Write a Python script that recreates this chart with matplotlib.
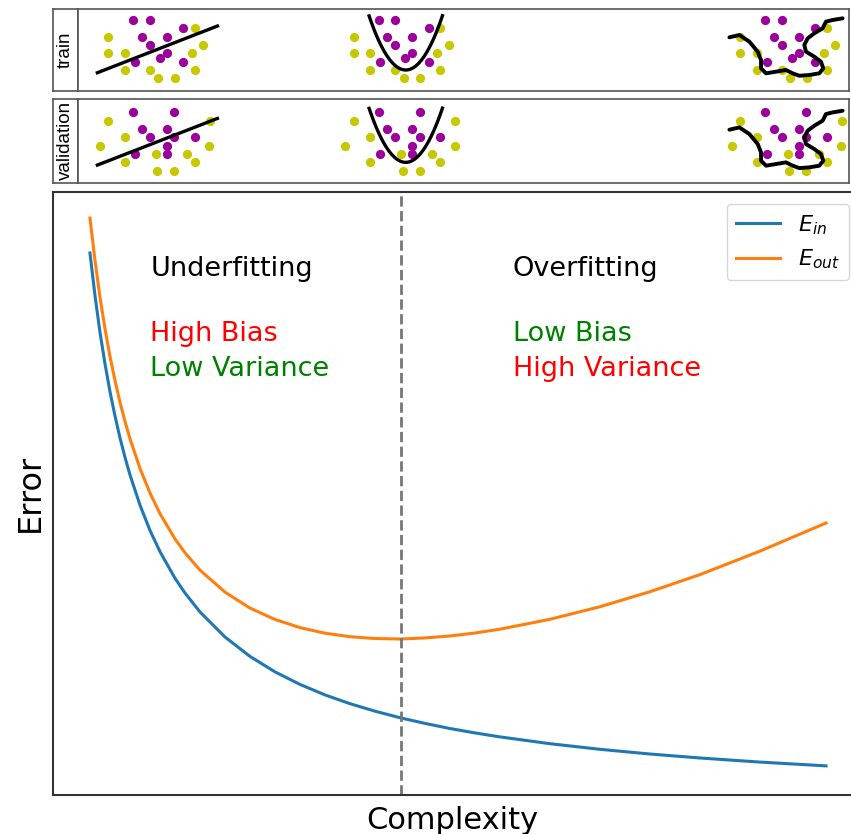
import matplotlib
matplotlib.use("Agg")
import matplotlib.pyplot as plt
import numpy as np

# ---------------- data ----------------
# main curves (complexity vs error)
complexity = [0.468, 0.531, 0.593, 0.656, 0.718, 0.781, 0.843, 0.906, 0.968,
              1.093, 1.218, 1.343, 1.530, 1.655, 1.843, 2.155, 2.467, 2.780,
              3.092, 3.404, 3.717, 4.029, 4.354, 4.654, 4.966, 5.278, 5.590,
              6.215, 6.840, 7.464, 8.089, 8.839, 9.663]
e_in = [8.988, 8.279, 7.673, 7.147, 6.686, 6.281, 5.919, 5.595, 5.305,
        4.803, 4.383, 4.030, 3.590, 3.344, 3.029, 2.614, 2.292, 2.035,
        1.827, 1.653, 1.507, 1.383, 1.270, 1.180, 1.095, 1.022, 0.956,
        0.843, 0.750, 0.672, 0.606, 0.538, 0.475]
e_out = [9.568, 8.860, 8.256, 7.731, 7.271, 6.870, 6.511, 6.191, 5.904,
         5.411, 5.003, 4.661, 4.242, 4.012, 3.723, 3.359, 3.094, 2.905,
         2.770, 2.677, 2.619, 2.589, 2.581, 2.599, 2.631, 2.680, 2.744,
         2.908, 3.117, 3.366, 3.650, 4.040, 4.506]
optimum = 4.354

# top panels: toy classification data
train_yellow_u = [0, 0, 2, 2, 5, 6, 8, 10.4, 10, 11.4, 10.4]
train_yellow_v = [5, 3, 3, 1, 1, 0, 0, 1, 3, 4, 6]
train_purple_u = [3, 5, 4, 5, 7, 9, 7, 6.2, 3.2, 9]
train_purple_v = [7, 7, 5, 4, 5, 6, 3, 2.4, 2, 2]

val_yellow_u = [0, 2, -1, 2, 5.9, 7.9, 5.7, 9.4, 10.4, 12.1, 12.2]
val_yellow_v = [6, 4, 3, 1, 0, 0, 2, 2, 1, 3, 6]
val_purple_u = [3, 7.9, 4, 5, 7, 7.9, 10.4, 7, 7, 3.2]
val_purple_v = [7, 7, 5, 4, 5, 4, 4, 3, 2, 2]

# fitted models
line_u = [-1.5, 13.3]
line_v = [0.6, 6.35]
parab_coef = [0.335, 6.24, 1.0]   # v = a*(u-b)^2 + c
parab_range = [1.84, 10.65]
wiggle_u = [-1.32, -0.12, 1.08, 2.08, 2.48, 2.48, 3.08, 4.28, 5.48, 6.28, 7.08,
            8.28, 9.48, 9.96, 9.68, 8.88, 7.88, 7.68, 8.08, 8.88, 9.88, 10.28,
            11.08, 12.28]
wiggle_v = [4.92, 5.2, 4.4, 3.2, 2.2, 1.2, 0.6, 0.8, 1.0, 0.6, 0.31, 0.4, 0.6,
            1.2, 2.0, 2.6, 3.2, 4.0, 4.8, 5.4, 6.0, 6.8, 7.0, 7.2]
panel_offsets = [0, 29.5, 75.95]
panel_names = ["train", "validation"]

# ---------------- figure ----------------
W, H = 851, 834
fig = plt.figure(figsize=(W / 100, H / 100), dpi=100)


def rect(x0, y0, x1, y1):
    return [x0 / W, 1 - y1 / H, (x1 - x0) / W, (y1 - y0) / H]


YEL = "#c8c800"
PUR = "#9a009a"
panel_boxes = [(8.5, 91), (98.5, 182.5)]
panel_ylims = [(-1.52, 8.38), (-1.42, 8.67)]
datasets = [(train_yellow_u, train_yellow_v, train_purple_u, train_purple_v),
            (val_yellow_u, val_yellow_v, val_purple_u, val_purple_v)]

for (y0, y1), ylim, name, (yu, yv, pu, pv) in zip(panel_boxes, panel_ylims,
                                                  panel_names, datasets):
    lab = fig.add_axes(rect(53, y0, 78, y1))
    lab.set_xticks([]); lab.set_yticks([])
    for s in lab.spines.values():
        s.set_color("#555555"); s.set_linewidth(1.2)
    lab.text(0.5, 0.5, name, rotation=90, ha="center", va="center",
             fontsize=13.5, family="Liberation Sans", transform=lab.transAxes)

    ax_t = fig.add_axes(rect(78, y0, 849, y1))
    ax_t.set_xticks([]); ax_t.set_yticks([])
    for s in ax_t.spines.values():
        s.set_color("#555555"); s.set_linewidth(1.2)
    ax_t.set_xlim(-3.64, 89.0)
    ax_t.set_ylim(*ylim)
    for k, off in enumerate(panel_offsets):
        ax_t.scatter(np.array(yu) + off, yv, s=44, color=YEL, linewidths=0, zorder=2)
        ax_t.scatter(np.array(pu) + off, pv, s=44, color=PUR, linewidths=0, zorder=2)
        if k == 0:
            ax_t.plot(np.array(line_u) + off, line_v, color="black", lw=2.4,
                      zorder=3, solid_capstyle="butt")
        elif k == 1:
            a, b, c = parab_coef
            uu = np.linspace(parab_range[0], parab_range[1], 60)
            ax_t.plot(uu + off, a * (uu - b) ** 2 + c, color="black", lw=2.4, zorder=3)
        else:
            ax_t.plot(np.array(wiggle_u) + off, wiggle_v, color="black", lw=2.8,
                      zorder=3, solid_joinstyle="round", solid_capstyle="round")

# main axes
ax = fig.add_axes(rect(52.5, 192, 853, 794.5))
ax.set_xlim(0, 10)
ax.set_ylim(0, 10)
ax.set_xticks([]); ax.set_yticks([])
for s in ax.spines.values():
    s.set_color("#333333"); s.set_linewidth(1.5)

ax.plot(complexity, e_in, color="#1f77b4", lw=2.2, label=r"$E_{in}$",
        solid_joinstyle="round")
ax.plot(complexity, e_out, color="#ff7f0e", lw=2.2, label=r"$E_{out}$",
        solid_joinstyle="round")
ax.axvline(optimum, color="#777777", ls="--", lw=2)

ax.set_xlabel("Complexity", fontsize=22, labelpad=8)
ax.set_ylabel("Error", fontsize=23, labelpad=5)

ax.text(1.22, 8.72, "Underfitting", fontsize=19.5, va="center")
ax.text(1.22, 7.65, "High Bias", fontsize=19.5, va="center", color="red")
ax.text(1.22, 7.07, "Low Variance", fontsize=19.5, va="center", color="green")
ax.text(5.75, 8.72, "Overfitting", fontsize=19.5, va="center")
ax.text(5.75, 7.65, "Low Bias", fontsize=19.5, va="center", color="green")
ax.text(5.75, 7.07, "High Variance", fontsize=19.5, va="center", color="red")

ax.legend(loc="upper right", fontsize=16, handlelength=2.0,
          bbox_to_anchor=(0.995, 0.980), borderaxespad=0.0)

fig.savefig("out.png", dpi=100)
